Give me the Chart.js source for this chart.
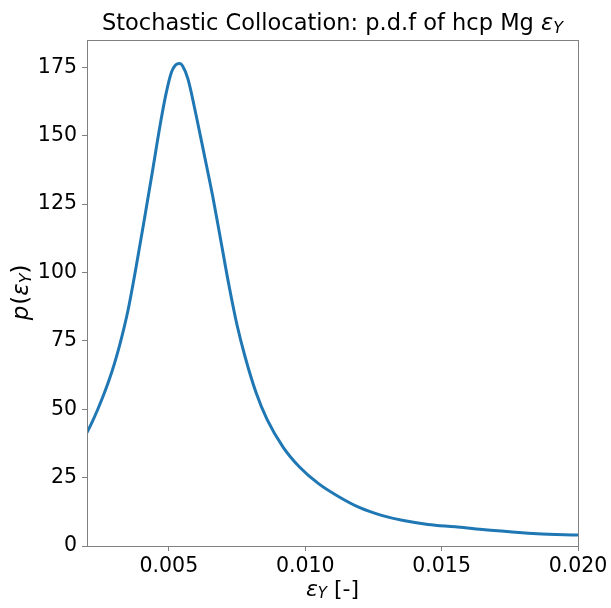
<!DOCTYPE html>
<html>
<head>
<title>Stochastic Collocation - pdf</title>
<script src="https://cdn.jsdelivr.net/npm/chart.js@4/dist/chart.umd.min.js"></script>
<style>
  html, body { margin: 0; padding: 0; background: #fff; }
  #container { width: 611px; height: 608px; }
</style>
</head>
<body>
<div id="container"><canvas id="canvas"></canvas></div>
<script>

// strain values (x) and density values (y)
var epsY = [0.0020, 0.0022, 0.0024, 0.0026, 0.0028, 0.0030, 0.0032, 0.0035, 0.0038, 0.0041,
            0.0044, 0.0047, 0.0049, 0.0051, 0.0053, 0.0054, 0.0055, 0.0057, 0.0060, 0.0063,
            0.0066, 0.0069, 0.0072, 0.0075, 0.0078, 0.0082, 0.0086, 0.0092, 0.0098, 0.0105,
            0.0112, 0.0120, 0.0128, 0.0136, 0.0145, 0.0155, 0.0165, 0.0175, 0.0185, 0.0200];
var pdfVals = [41.5, 45.6, 50.1, 55.0, 60.4, 66.5, 73.5, 86, 102, 119.3,
               137, 155, 165.5, 173.3, 176.2, 176.4, 175.6, 170.8, 157.5, 143,
               128.3, 112, 95.5, 80.8, 69, 56, 46.3, 36, 28.8, 22.7,
               18.2, 14, 11.2, 9.3, 7.9, 7.0, 6.0, 5.2, 4.5, 4.0];

var xTicks = [0.005, 0.010, 0.015, 0.020];
var yTicks = [0, 25, 50, 75, 100, 125, 150, 175];

var fontFamily = "'DejaVu Sans', sans-serif";
var axisGrey = '#808080';

var points = [];
for (var i in epsY) {
  points.push({ x: epsY[i], y: pdfVals[i] });
}

// draw italic epsilon with subscript Y, returns width used
function drawEps(ctx, x, y, size) {
  ctx.font = 'italic ' + size + 'px ' + fontFamily;
  ctx.fillText('\u03b5', x, y);
  var w = ctx.measureText('\u03b5').width;
  ctx.font = 'italic ' + Math.round(size * 0.7) + 'px ' + fontFamily;
  ctx.fillText('Y', x + w, y + size * 0.2);
  return w + ctx.measureText('Y').width;
}

var labelsPlugin = {
  id: 'labels',
  afterDraw: function(chart) {
    var ctx = chart.ctx;
    var area = chart.chartArea;
    ctx.save();

    // frame on all four sides
    ctx.strokeStyle = axisGrey;
    ctx.lineWidth = 1;
    ctx.strokeRect(area.left + 0.5, area.top + 0.5, area.right - area.left, area.bottom - area.top);

    ctx.fillStyle = '#000';
    ctx.textBaseline = 'middle';
    ctx.textAlign = 'left';

    // title
    var tSize = 22.5;
    var tText = 'Stochastic Collocation: p.d.f of hcp Mg ';
    ctx.font = tSize + 'px ' + fontFamily;
    var tw = ctx.measureText(tText).width;
    var tx = (area.left + area.right) / 2 - (tw + 22) / 2;
    ctx.fillText(tText, tx, 24);
    drawEps(ctx, tx + tw, 24, tSize);

    // x axis title
    var aSize = 22;
    ctx.font = aSize + 'px ' + fontFamily;
    var rest = ' [-]';
    var restW = ctx.measureText(rest).width;
    var xStart = (area.left + area.right) / 2 - (21 + restW) / 2;
    var xw = drawEps(ctx, xStart, 590, aSize);
    ctx.font = aSize + 'px ' + fontFamily;
    ctx.fillText(rest, xStart + xw, 590);

    // y axis title, rotated
    var ySize = 23;
    ctx.translate(22, (area.top + area.bottom) / 2);
    ctx.rotate(-Math.PI / 2);
    ctx.font = 'italic ' + ySize + 'px ' + fontFamily;
    var pOnly = ctx.measureText('p').width;
    ctx.font = ySize + 'px ' + fontFamily;
    var parW = ctx.measureText('(').width;
    var yStart = -(pOnly + parW * 2 + 22) / 2;
    ctx.font = 'italic ' + ySize + 'px ' + fontFamily;
    ctx.fillText('p', yStart, 0);
    ctx.font = ySize + 'px ' + fontFamily;
    ctx.fillText('(', yStart + pOnly + 1, 0);
    var ew = drawEps(ctx, yStart + pOnly + parW + 1, 0, ySize);
    ctx.font = ySize + 'px ' + fontFamily;
    ctx.fillText(')', yStart + pOnly + parW + 1 + ew, 0);

    ctx.restore();
  }
};

var ctx = document.getElementById('canvas').getContext('2d');
window.pdfChart = new Chart(ctx, {
  type: 'line',
  data: {
    datasets: [{
      data: points,
      borderColor: '#1f77b4',
      borderWidth: 3,
      pointRadius: 0,
      fill: false,
      cubicInterpolationMode: 'monotone'
    }]
  },
  options: {
    responsive: true,
    maintainAspectRatio: false,
    animation: false,
    layout: { padding: { left: 0, top: 40, right: 33, bottom: 0 } },
    plugins: {
      legend: { display: false },
      title: { display: false },
      tooltip: { enabled: false }
    },
    scales: {
      x: {
        type: 'linear',
        min: 0.002,
        max: 0.020,
        afterBuildTicks: function(axis) {
          axis.ticks = xTicks.map(function(v) { return { value: v }; });
        },
        afterFit: function(axis) { axis.height = 62; },
        ticks: {
          color: '#000',
          font: { family: fontFamily, size: 20.5 },
          padding: 3,
          maxRotation: 0,
          callback: function(v) { return Number(v).toFixed(3); }
        },
        grid: { drawOnChartArea: false, drawTicks: true, tickLength: 5, color: axisGrey },
        border: { color: axisGrey }
      },
      y: {
        min: 0,
        max: 185,
        afterBuildTicks: function(axis) {
          axis.ticks = yTicks.map(function(v) { return { value: v }; });
        },
        afterFit: function(axis) { axis.width = 87; },
        ticks: {
          color: '#000',
          font: { family: fontFamily, size: 20.5 },
          padding: 5
        },
        grid: { drawOnChartArea: false, drawTicks: true, tickLength: 5, color: axisGrey },
        border: { color: axisGrey }
      }
    }
  },
  plugins: [labelsPlugin]
});

</script>
</body>
</html>
